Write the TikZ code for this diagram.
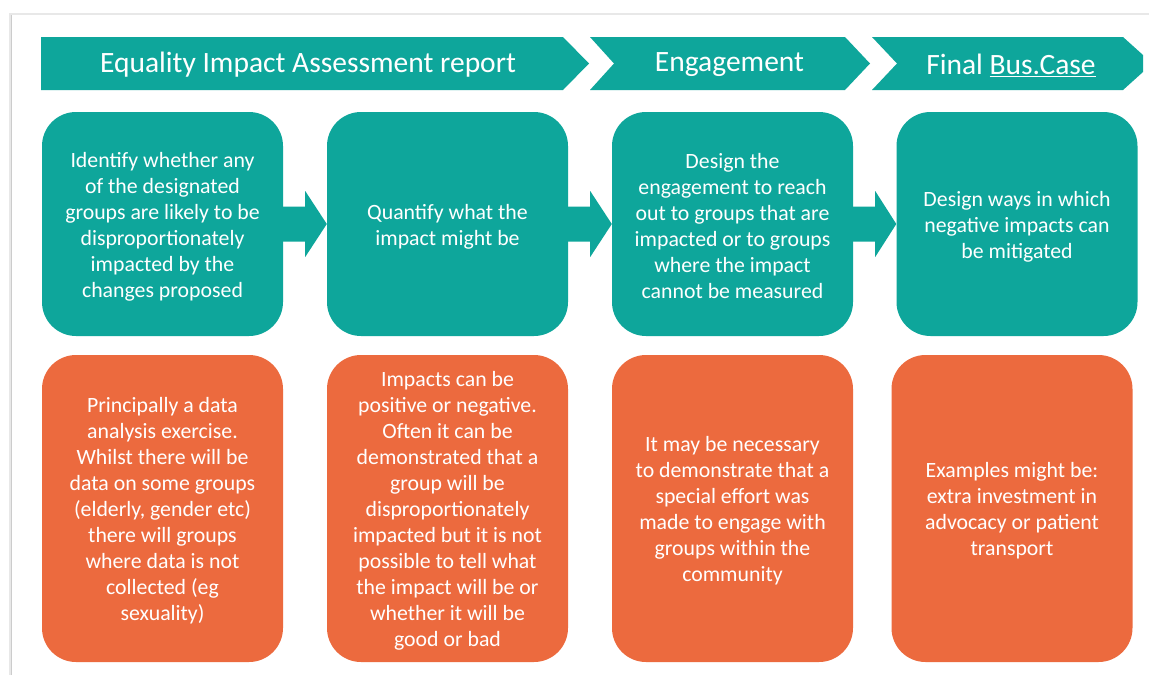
\documentclass[tikz,border=0pt]{standalone}
\usepackage{fontspec}
\setmainfont{Carlito}
\usetikzlibrary{calc}
\definecolor{tealc}{RGB}{14,166,155}
\definecolor{orngc}{RGB}{236,106,62}
\begin{document}
\begin{tikzpicture}[x=1pt,y=-1pt,
  box/.style={rounded corners=34pt, minimum width=241pt, inner sep=0pt},
  tealbox/.style={box, fill=tealc, minimum height=224pt},
  orbox/.style={box, fill=orngc, minimum height=307pt},
  txt/.style={inner sep=0pt, text=white, align=center, font=\fontsize{21.8}{26}\selectfont},
  hdr/.style={text=white, inner sep=0pt, font=\fontsize{29.5}{32}\selectfont},
  chev/.style={fill=tealc}
]
\useasboundingbox (0,0) rectangle (1149,675);
\fill[white] (0,0) rectangle (1149,675);
% page edge shadow
\draw[gray!18, line width=2pt] (10,675) -- (10,14) -- (1149,14);
\draw[gray!40, line width=1pt] (11,675) -- (11,15);

% header chevrons
\fill[chev] (41,37) -- (563,37) -- (589,63.5) -- (563,90) -- (41,90) -- cycle;
\fill[chev] (590,37) -- (845,37) -- (870,63.5) -- (845,90) -- (590,90) -- (614,63.5) -- cycle;
\fill[chev] (872,37) -- (1123,37) -- (1143,55) -- (1143,72) -- (1123,90) -- (872,90) -- (897,63.5) -- cycle;
\node[hdr] (h1) at (308,65) {Equality Impact Assessment report};
\node[hdr] (h2) at (729.5,65) {Engagement};
\node[hdr] (h3) at (1011,65) {Final \underline{Bus.Case}};

% teal boxes
\node[tealbox] (t1) at (162.5,224) {};
\node[tealbox] (t2) at (447.5,224) {};
\node[tealbox] (t3) at (732.5,224) {};
\node[tealbox] (t4) at (1017,224) {};
\node[txt] (t1x) at ($(t1.center)+(0,2.5)$) {Identify whether any\\of the designated\\groups are likely to be\\disproportionately\\impacted by the\\changes proposed};
\node[txt] (t2x) at ($(t2.center)+(0,2.5)$) {Quantify what the\\impact might be};
\node[txt] (t3x) at ($(t3.center)+(0,2.5)$) {Design the\\engagement to reach\\out to groups that are\\impacted or to groups\\where the impact\\cannot be measured};
\node[txt] (t4x) at ($(t4.center)+(0,2.5)$) {Design ways in which\\negative impacts can\\be mitigated};

% orange boxes
\node[orbox] (o1) at (162.5,508.5) {};
\node[orbox] (o2) at (447.5,508.5) {};
\node[orbox] (o3) at (732.5,508.5) {};
\node[orbox] (o4) at (1012,508.5) {};
\node[txt] (o1x) at ($(o1.center)+(0,2.5)$) {Principally a data\\analysis exercise.\\Whilst there will be\\data on some groups\\(elderly, gender etc)\\there will groups\\where data is not\\collected (eg\\sexuality)};
\node[txt] (o2x) at ($(o2.center)+(0,2.5)$) {Impacts can be\\positive or negative.\\Often it can be\\demonstrated that a\\group will be\\disproportionately\\impacted but it is not\\possible to tell what\\the impact will be or\\whether it will be\\good or bad};
\node[txt] (o3x) at ($(o3.center)+(0,2.5)$) {It may be necessary\\to demonstrate that a\\special effort was\\made to engage with\\groups within the\\community};
\node[txt] (o4x) at ($(o4.center)+(0,2.5)$) {Examples might be:\\extra investment in\\advocacy or patient\\transport};

% arrows between teal boxes
\foreach \a/\b in {t1/t2,t2/t3,t3/t4}{
  \fill[tealc] ($(\a.east)+(-1,-17.5)$) -- ($(\a.east)+(22,-17.5)$) -- ($(\a.east)+(22,-33)$) -- (\b.west) -- ($(\a.east)+(22,33)$) -- ($(\a.east)+(22,17.5)$) -- ($(\a.east)+(-1,17.5)$) -- cycle;
}
\end{tikzpicture}
\end{document}
